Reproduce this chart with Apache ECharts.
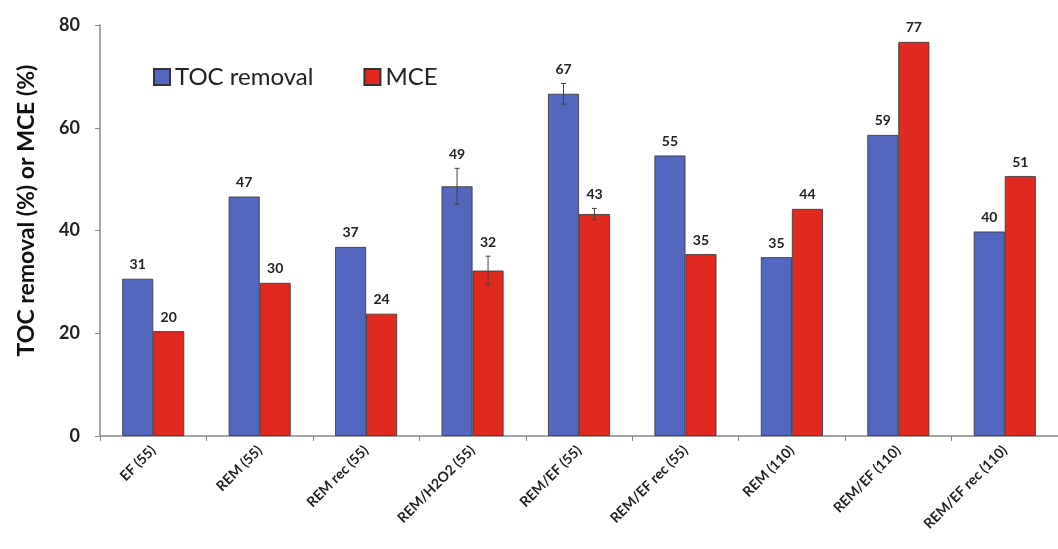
<!DOCTYPE html>
<html>
<head>
<meta charset="utf-8">
<script src="https://cdn.jsdelivr.net/npm/echarts@6/dist/echarts.min.js"></script>
<style>
  html, body { margin: 0; padding: 0; background: #fff; }
  #chart { width: 1058px; height: 549px; }
</style>
</head>
<body>
<div id="chart"></div>
<script>
const categories = ['EF (55)', 'REM (55)', 'REM rec (55)', 'REM/H2O2 (55)', 'REM/EF (55)',
    'REM/EF rec (55)', 'REM (110)', 'REM/EF (110)', 'REM/EF rec (110)'];
const tocRemoval = [30.6, 46.6, 36.8, 48.6, 66.6, 54.6, 34.8, 58.6, 39.8];
const mce = [20.4, 29.8, 23.8, 32.2, 43.2, 35.4, 44.2, 76.7, 50.6];
// error bar half-widths (0 = no bar)
const tocErr = [0, 0, 0, 3.5, 2, 0, 0, 0, 0];
const mceErr = [0, 0, 0, 2.8, 1.1, 0, 0, 0, 0];

const chart = echarts.init(document.getElementById('chart'));
const BAR_W = 31;
const PX_PER_UNIT = 411 / 80; // plot height / y range, used to lift labels over error bars
const font = 'Lato, "Open Sans", sans-serif';

// error bar builder, shifted to the left or right bar of a group
function errorSeries(name, vals, errs, shift) {
    const data = [];
    vals.forEach((v, i) => {
        if (errs[i] > 0) data.push([i, v - errs[i], v + errs[i]]);
    });
    return {
        name: name,
        type: 'custom',
        z: 10,
        silent: true,
        data: data,
        renderItem: function (params, api) {
            const lo = api.coord([api.value(0), api.value(1)]);
            const hi = api.coord([api.value(0), api.value(2)]);
            const x = lo[0] + shift;
            const cap = 2.5;
            const style = { stroke: '#444', lineWidth: 1 };
            return {
                type: 'group',
                children: [
                    { type: 'line', shape: { x1: x, y1: lo[1], x2: x, y2: hi[1] }, style: style },
                    { type: 'line', shape: { x1: x - cap, y1: lo[1], x2: x + cap, y2: lo[1] }, style: style },
                    { type: 'line', shape: { x1: x - cap, y1: hi[1], x2: x + cap, y2: hi[1] }, style: style }
                ]
            };
        }
    };
}

function barData(vals, errs) {
    return vals.map((v, i) => ({
        value: v,
        label: { distance: 7 + errs[i] * PX_PER_UNIT }
    }));
}

const labelStyle = {
    show: true,
    position: 'top',
    fontFamily: font,
    fontWeight: 'bold',
    fontSize: 14,
    color: '#222',
    formatter: p => Math.round(p.value)
};

const option = {
    animation: false,
    backgroundColor: '#fff',
    grid: { left: 100, top: 25, bottom: 113, width: 976 },
    legend: {
        left: 148, top: 60,
        itemWidth: 16, itemHeight: 16, itemGap: 50,
        data: ['TOC removal', 'MCE'],
        textStyle: { fontFamily: font, fontSize: 24, color: '#222' },
        icon: 'rect'
    },
    xAxis: {
        type: 'category',
        data: categories,
        axisLine: { lineStyle: { color: '#888', width: 1.5 } },
        axisTick: { show: true, length: 5, lineStyle: { color: '#888' } },
        axisLabel: {
            rotate: 45, interval: 0, margin: 12,
            fontFamily: font, fontWeight: 'bold', fontSize: 14, color: '#222'
        }
    },
    yAxis: {
        type: 'value',
        min: 0, max: 80, interval: 20,
        name: 'TOC removal (%) or MCE (%)',
        nameLocation: 'middle',
        nameGap: 62,
        nameTextStyle: {
            fontFamily: font, fontWeight: 'bold', fontSize: 23, color: '#111',
            padding: [0, 0, 0, 40]
        },
        axisLine: { show: true, lineStyle: { color: '#888', width: 1.5 } },
        axisTick: { show: true, length: 5, lineStyle: { color: '#888' } },
        splitLine: { show: false },
        axisLabel: { margin: 20, fontFamily: font, fontWeight: 'bold', fontSize: 18, color: '#222' }
    },
    series: [
        {
            name: 'TOC removal',
            type: 'bar',
            data: barData(tocRemoval, tocErr),
            barWidth: BAR_W,
            barGap: '0%',
            itemStyle: { color: '#5267bd', borderColor: '#333', borderWidth: 0.8 },
            label: labelStyle
        },
        {
            name: 'MCE',
            type: 'bar',
            data: barData(mce, mceErr),
            barWidth: BAR_W,
            barGap: '0%',
            itemStyle: { color: '#e0291f', borderColor: '#333', borderWidth: 0.8 },
            label: labelStyle
        },
        errorSeries('TOC err', tocRemoval, tocErr, -BAR_W / 2),
        errorSeries('MCE err', mce, mceErr, BAR_W / 2)
    ]
};

chart.setOption(option);
</script>
</body>
</html>
